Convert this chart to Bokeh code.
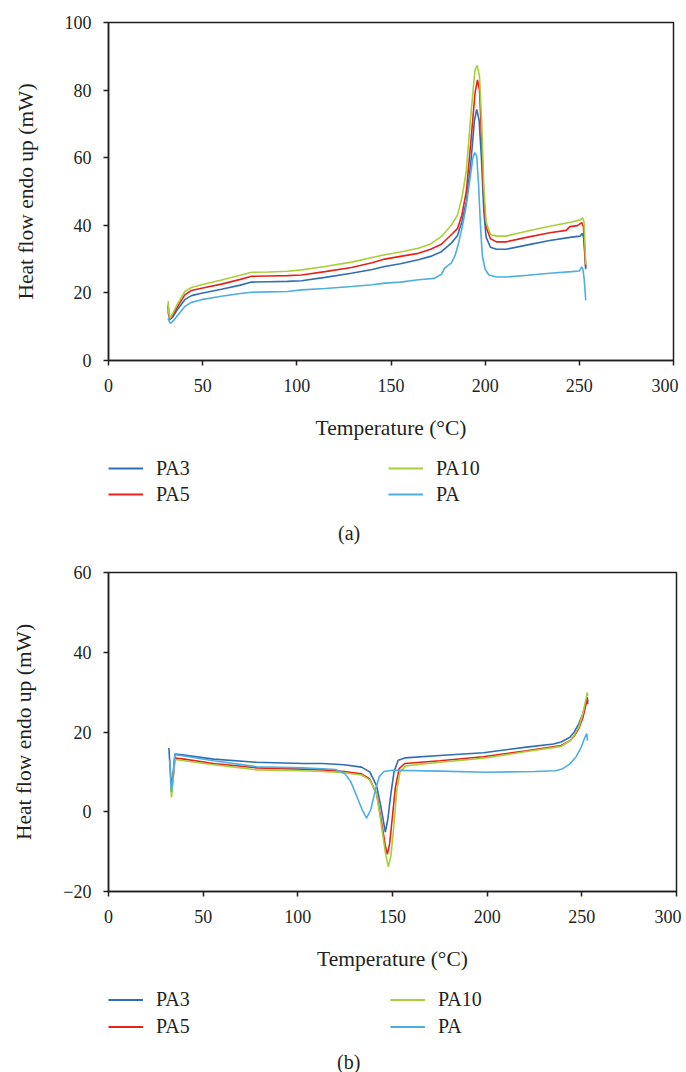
from bokeh.plotting import figure
from bokeh.models import Range1d, FixedTicker, Legend, LegendItem, Div
from bokeh.layouts import column
from bokeh.embed import file_html
from bokeh.resources import INLINE

# ---------------- data: panel (a) ----------------
a_pa3_t = [31.7, 31.9, 32.6, 34, 36.5, 40.5, 44, 49.4, 60, 70, 76, 85, 95, 102.5, 115, 129, 140, 146.7, 155, 164.5, 171, 176.8, 182, 185.3, 187.6, 190, 192.3, 194.3, 195.5, 196.8, 198, 199.3, 200.5, 202.8, 206, 211, 222.6, 234.3, 245.9, 250.5, 251.5, 252.3, 253.4]
a_pa3_h = [16.0, 13.5, 12.1, 12.8, 15.0, 18.0, 19.2, 19.9, 21.1, 22.3, 23.2, 23.3, 23.4, 23.6, 24.6, 25.8, 26.9, 27.8, 28.6, 29.8, 30.8, 32.2, 34.7, 37, 41, 47, 58, 71, 74.3, 71, 60, 44, 36.5, 33.5, 32.9, 32.9, 34.2, 35.5, 36.5, 36.8, 37.6, 36.5, 27]

a_pa5_t = [31.7, 31.9, 32.6, 34, 36.5, 40.5, 44, 49.4, 60, 70, 76, 85, 95, 102.5, 115, 129, 140, 146.7, 155, 164.5, 171, 176.8, 182, 185.3, 187.6, 190, 192.3, 194.6, 195.9, 197, 198.1, 199.3, 200.5, 202.8, 206, 211, 222.6, 234.3, 243, 245, 249, 251.3, 252.2, 253.4]
a_pa5_h = [16.5, 14, 12.5, 13.3, 15.8, 19.4, 20.7, 21.4, 22.6, 24.0, 24.9, 25.0, 25.1, 25.3, 26.3, 27.5, 28.9, 30.0, 30.8, 31.7, 32.9, 34.4, 37.2, 39, 43, 50, 64, 79, 83, 80, 66, 48, 39.5, 36, 35.1, 35.1, 36.5, 37.8, 38.5, 39.6, 39.9, 40.8, 39.5, 27.4]

a_pa10_t = [31.7, 31.9, 32.6, 34, 36.5, 40.5, 44, 49.4, 60, 70, 76, 85, 95, 102.5, 115, 129, 140, 146.7, 155, 164.5, 171, 176.8, 182, 185.3, 187.6, 190, 192.3, 194.6, 195.8, 197, 198.1, 199.3, 200.5, 202.8, 206, 211, 222.6, 234.3, 245.9, 250.5, 251.7, 252.5, 253.4]
a_pa10_h = [17.6, 14.5, 12.5, 13.8, 16.6, 20.4, 21.6, 22.4, 23.8, 25.2, 26.1, 26.2, 26.4, 26.8, 27.8, 29.1, 30.5, 31.3, 32.1, 33.2, 34.5, 36.7, 40, 43, 48, 56, 72, 86, 87.3, 84, 71, 51, 41, 37.3, 36.8, 36.8, 38.3, 39.7, 41.0, 41.6, 42.2, 41, 28.4]

a_pa_t = [31.7, 31.9, 32.8, 34, 36.5, 40.5, 44, 49.4, 60, 70, 76, 85, 95, 102.5, 115, 129, 140, 146.7, 155, 164.5, 173, 176.8, 178.5, 180, 182, 184, 186, 188, 190, 192, 193.5, 194.5, 195.5, 196.5, 197.5, 198.5, 200, 202, 206, 211, 222.6, 234.3, 245.9, 250, 251.3, 251.9, 252.6, 253.4]
a_pa_h = [12.5, 12, 11.0, 11.5, 13.2, 16.0, 17.2, 18.0, 19.0, 19.8, 20.2, 20.3, 20.4, 20.9, 21.3, 21.9, 22.4, 22.9, 23.2, 23.9, 24.3, 25.5, 27.3, 28.0, 28.8, 31.0, 35, 40, 46, 54, 60, 61.5, 60.5, 52, 40, 31, 27, 25.3, 24.7, 24.7, 25.2, 25.8, 26.3, 26.5, 27.7, 27, 24, 17.8]

# ---------------- data: panel (b) ----------------
b_pa3_t = [31.9, 32.4, 33.2, 34.2, 35.1, 40, 55.5, 78.3, 102.7, 113, 124.4, 133.6, 138, 141.6, 144, 146.2, 147.5, 149, 150.8, 153, 156.5, 175, 198, 220.8, 235, 239.1, 243.7, 246, 248.3, 250.5, 252.9, 253.1]
b_pa3_h = [16.0, 12, 6.1, 10, 14.5, 14.2, 13.2, 12.4, 12.1, 12.1, 11.8, 11.2, 10, 6.5, 1, -5.1, -2, 4, 10, 12.9, 13.5, 14.1, 14.8, 16.2, 17.0, 17.5, 18.7, 20, 22, 24.5, 28.7, 27]

b_pa5_t = [32.8, 33.3, 34.2, 35.1, 40, 55.5, 78.3, 102.7, 113, 124.4, 133.6, 138, 141.6, 144, 146.2, 147.3, 148.5, 150, 151.5, 153.5, 156.5, 175, 198, 220.8, 239.1, 243.7, 246, 248.3, 250.5, 252.9, 253.1]
b_pa5_h = [8, 4.9, 9, 13.5, 13.2, 12.1, 11.0, 10.7, 10.5, 10.1, 9.5, 8.2, 4.5, -2, -8.5, -10.7, -8, -1, 6, 10.8, 12.1, 12.8, 13.8, 15.3, 16.6, 17.8, 19, 20.8, 23.5, 28.3, 27.5]

b_pa10_t = [32.8, 33.3, 34.2, 35.1, 40, 55.5, 78.3, 102.7, 113, 124.4, 133.6, 138, 141.6, 144, 146.3, 147.8, 149.2, 150.8, 152.3, 154, 157, 175, 198, 220.8, 239.1, 243.7, 246, 248.3, 250.5, 252.9, 253.1]
b_pa10_h = [7, 3.6, 8.5, 13.1, 12.8, 11.8, 10.5, 10.3, 10.1, 9.8, 9.2, 8, 4.5, -3, -10.5, -13.8, -11, -3, 5.5, 10, 11.5, 12.4, 13.4, 15.1, 16.4, 17.8, 19.2, 21.2, 24.5, 29.9, 29]

b_pa_t = [32.3, 33.2, 34.2, 35.1, 40, 55.5, 78.3, 102.7, 113, 120, 125, 128, 131, 134, 136.3, 138.5, 141, 143, 145.5, 150, 175, 200, 225, 236, 240, 243.7, 247, 249.5, 251.5, 252.6, 253]
b_pa_h = [13, 5.0, 9, 14.3, 14.0, 12.8, 11.3, 11.0, 10.8, 10.6, 9.5, 7.5, 4, 0.5, -1.6, 0.5, 5.5, 8.8, 10.1, 10.4, 10.2, 9.9, 10.1, 10.3, 10.8, 12, 13.8, 16, 18.5, 19.6, 17.8]

series_names = ["PA3", "PA5", "PA10", "PA"]
series_colors = ["#2f6db5", "#e5231b", "#a8cf3a", "#4eaee0"]

x_ticks = [0, 50, 100, 150, 200, 250, 300]
a_y_ticks = [0, 20, 40, 60, 80, 100]
b_y_ticks = [-20, 0, 20, 40, 60]

FONT = "Liberation Serif"
INK = "#231f20"


def chart(series, y_range, y_ticks, w, h, bl, bt, br, bb):
    p = figure(output_backend="svg", toolbar_location=None,
               width=w, height=h,
               min_border_left=bl, min_border_top=bt, min_border_right=br, min_border_bottom=bb,
               x_range=Range1d(0, 300), y_range=Range1d(*y_range))
    p.xgrid.grid_line_color = None
    p.ygrid.grid_line_color = None
    p.outline_line_color = INK
    p.outline_line_width = 1.5
    p.outline_line_alpha = 1

    p.xaxis.ticker = FixedTicker(ticks=x_ticks)
    p.yaxis.ticker = FixedTicker(ticks=y_ticks)
    p.yaxis.major_label_overrides = {t: (("\u2212" + str(-t)) if t < 0 else str(t)) for t in y_ticks}
    p.xaxis.axis_label = "Temperature (\u00b0C)"
    p.yaxis.axis_label = "Heat flow endo up (mW)"
    for ax in (p.xaxis, p.yaxis):
        ax.axis_line_color = INK
        ax.axis_line_width = 1.5
        ax.major_tick_line_color = INK
        ax.major_tick_line_width = 1.5
        ax.major_tick_out = 5
        ax.major_tick_in = 0
        ax.minor_tick_out = 0
        ax.minor_tick_in = 0
        ax.major_label_text_font = FONT
        ax.major_label_text_font_size = "18px"
        ax.major_label_text_color = INK
        ax.axis_label_text_font = FONT
        ax.axis_label_text_font_size = "21.5px"
        ax.axis_label_text_font_style = "normal"
        ax.axis_label_text_color = INK
    p.xaxis.major_label_standoff = 13
    p.xaxis.axis_label_standoff = 21
    p.yaxis.major_label_standoff = 12
    p.yaxis.axis_label_standoff = 24

    for (t, hh), col in zip(series, series_colors):
        p.line(t, hh, line_color=col, line_width=1.6)
    return p


def legend_strip(series, w, h, x1, x2, ybottom, row_h):
    # key strip: the same series drawn through its own scales, kept out of view,
    # so that only the legend samples show
    q = figure(output_backend="svg", toolbar_location=None, width=w, height=h,
               min_border=0, x_axis_location=None, y_axis_location=None,
               x_range=Range1d(1000, 1001), y_range=Range1d(1000, 1001))
    q.xgrid.grid_line_color = None
    q.ygrid.grid_line_color = None
    q.outline_line_color = None
    items = []
    for (t, hh), name, col in zip(series, series_names, series_colors):
        r = q.line(t, hh, line_color=col, line_width=1.8)
        items.append(LegendItem(label=name, renderers=[r]))
    for grp, lx in ((items[:2], x1), (items[2:], x2)):
        q.add_layout(Legend(items=grp, location=(lx, ybottom),
                            border_line_alpha=0, background_fill_alpha=0,
                            margin=0, padding=0, spacing=0,
                            glyph_width=35, glyph_height=row_h, label_height=row_h,
                            label_standoff=13, label_text_font="'Liberation Serif', serif",
                            label_text_font_style="normal",
                            label_text_font_size="20px", label_text_color=INK))
    return q


def caption(text, left, h):
    return Div(text=text, width=40, height=h, margin=(0, 0, 0, left),
               styles={"font-family": FONT, "font-size": "20px", "color": INK,
                       "line-height": "%dpx" % h})


ser_a = [(a_pa3_t, a_pa3_h), (a_pa5_t, a_pa5_h), (a_pa10_t, a_pa10_h), (a_pa_t, a_pa_h)]
ser_b = [(b_pa3_t, b_pa3_h), (b_pa5_t, b_pa5_h), (b_pa10_t, b_pa10_h), (b_pa_t, b_pa_h)]

pa = chart(ser_a, (0, 100), a_y_ticks, 678, 448, 108, 22, 4, 88)
la = legend_strip(ser_a, 678, 73, 0, 280, 14, 26)
cap_a = caption("(a)", 338, 24)
pb = chart(ser_b, (-20, 60), b_y_ticks, 681, 434, 104, 27, 5, 88)
lb = legend_strip(ser_b, 681, 73, 0, 282, 12, 27)
cap_b = caption("(b)", 337, 20)

layout = column(pa, la, cap_a, pb, lb, cap_b, spacing=0)
open("out.html", "w").write(file_html(layout, INLINE))
